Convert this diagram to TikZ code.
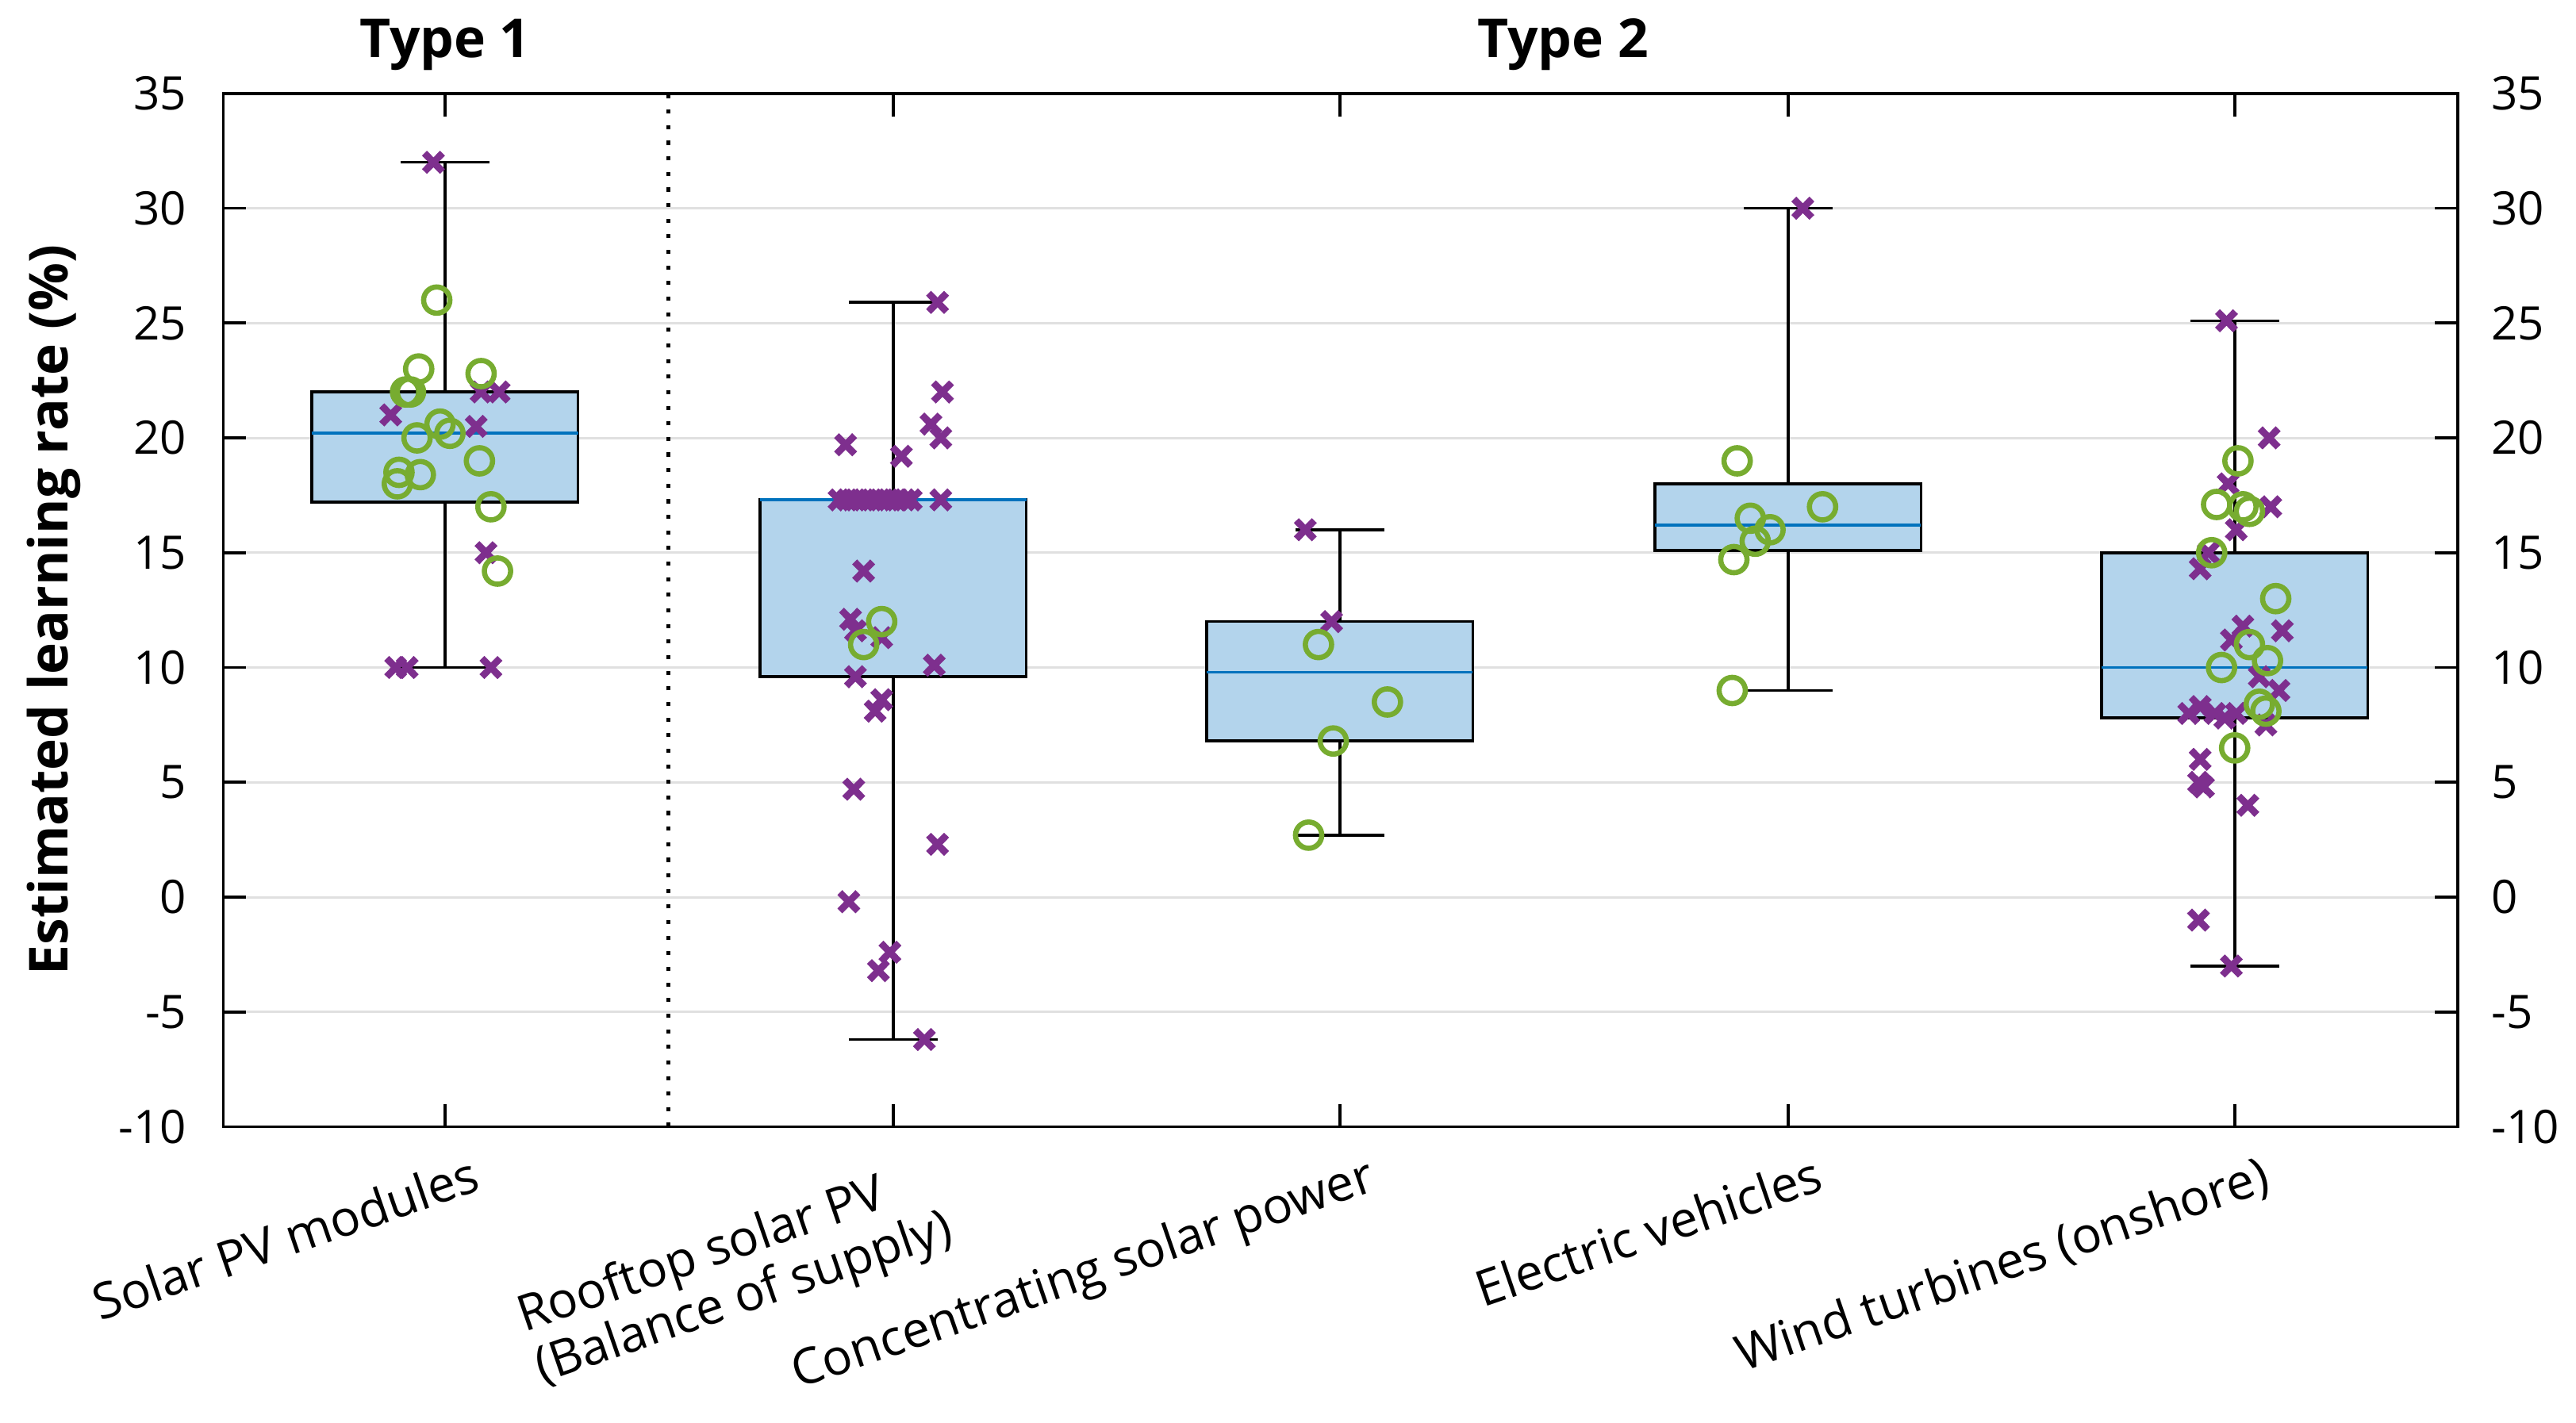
\documentclass[tikz,border=0pt]{standalone}
\usepackage{fontspec}
\setmainfont{Open Sans}
\definecolor{pur}{HTML}{7E2F8E}
\definecolor{grn}{HTML}{77AC30}
\definecolor{boxf}{HTML}{B3D4EC}
\definecolor{med}{HTML}{0072BD}
\begin{document}
\begin{tikzpicture}[
  lab/.style={font=\fontsize{8}{9}\selectfont},
  catlab/.style={font=\fontsize{8.6}{9.4}\selectfont,anchor=north east,rotate=19,inner sep=1pt},
  ttl/.style={font=\bfseries\fontsize{9.3}{10}\selectfont},
  xmark/.style={pur,line width=1.2pt},
  omark/.style={grn,line width=0.9pt},
  bx/.style={draw=black,fill=boxf,line width=0.5pt}]
\useasboundingbox (0,0) rectangle (15.68,8.66);
\begin{scope}[x=0.01cm,y=0.1398cm,shift={(0,3.198cm)}]
% grid
\foreach \v in {-5,0,...,30} \draw[black!12,line width=0.4pt] (136,\v) -- (1497,\v);
% dotted divider
\draw[dotted,line width=0.7pt] (407,-10) -- (407,35);
\newcommand{\xx}[2]{\draw[xmark] (#1-5.5,#2-0.4) -- (#1+5.5,#2+0.4) (#1-5.5,#2+0.4) -- (#1+5.5,#2-0.4);}
\newcommand{\oo}[2]{\draw[omark] (#1,#2) circle[radius=0.08cm];}
\newcommand{\myboxplot}[6]{% x, lowwh, q1, med, q3, upwh
  \draw[line width=0.5pt] (#1,#2) -- (#1,#3) (#1,#5) -- (#1,#6);
  \draw[line width=0.5pt] (#1-27,#2) -- (#1+27,#2) (#1-27,#6) -- (#1+27,#6);
  \draw[bx] (#1-81,#3) rectangle (#1+81,#5);
  \draw[med,line width=0.5pt] (#1-81,#4) -- (#1+81,#4);}
\myboxplot{271}{10}{17.2}{20.2}{22}{32}
\myboxplot{544}{-6.2}{9.6}{17.3}{17.3}{25.9}
\myboxplot{816}{2.7}{6.8}{9.8}{12}{16}
\myboxplot{1089}{9}{15.1}{16.2}{18}{30}
\myboxplot{1361}{-3}{7.8}{10}{15}{25.1}
% solar PV
\foreach \a/\b in {264/32,238/21,290/20.5,296/15,241/10,248/10,299/10,293/22,304/22} {\xx{\a}{\b}}
\foreach \a/\b in {266/26,255/23,293/22.8,247/22,250/22,268/20.6,254/20,274/20.2,292/19,243/18.5,256/18.4,242/18,299/17,303/14.2} {\oo{\a}{\b}}
% rooftop
\foreach \a/\b in {571/25.9,574/22,515/19.7,549/19.2,567/20.6,573/20,511/17.3,516/17.3,521/17.3,526/17.3,531/17.3,536/17.3,541/17.3,546/17.3,551/17.3,555/17.3,573/17.3,526/14.2,518/12.1,521/11.6,537/11.3,569/10.1,521/9.6,537/8.6,533/8.1,520/4.7,517/-0.2,542/-2.4,535/-3.2,563/-6.2,571/2.3} {\xx{\a}{\b}}
\foreach \a/\b in {537/12,526/11} {\oo{\a}{\b}}
% CSP
\foreach \a/\b in {795/16,811/12} {\xx{\a}{\b}}
\foreach \a/\b in {803/11,845/8.5,812/6.8,797/2.7} {\oo{\a}{\b}}
% EV
\xx{1098}{30}
\foreach \a/\b in {1058/19,1110/17,1066/16.5,1078/16,1069/15.5,1056/14.7,1055/9} {\oo{\a}{\b}}
% wind
\foreach \a/\b in {1356/25.1,1382/20,1357/18,1383/17,1362/16,1345/15,1340/14.3,1366/11.8,1359/11.2,1390/11.6,1388/9,1376/9.6,1333/8,1340/8.3,1349/8,1355/7.8,1362/8,1380/7.5,1340/6,1339/5,1342/4.8,1369/4,1339/-1,1359/-3} {\xx{\a}{\b}}
\foreach \a/\b in {1363/19,1350/17.1,1366/17,1370/16.8,1347/15,1386/13,1370/11,1353/10,1381/10.3,1376/8.4,1380/8.1,1361/6.5} {\oo{\a}{\b}}
% axes frame
\draw[line width=0.5pt] (136,-10) rectangle (1497,35);
\foreach \v in {-10,-5,...,35} {
  \draw[line width=0.5pt] (136,\v) -- (150,\v) (1497,\v) -- (1483,\v);
  \node[lab,anchor=east] at (126,\v) {\v};
  \node[lab,anchor=west] at (1505,\v) {\v};}
\foreach \c in {271,544,816,1089,1361}
  \draw[line width=0.5pt] (\c,-10) -- (\c,-9) (\c,35) -- (\c,34);
% titles
\node[ttl,anchor=south] (t1) at (271,35.1) {Type 1};
\node[ttl,anchor=south] (t2) at (952,35.1) {Type 2};
\node[ttl,rotate=90] (yl) at (33,12.5) {Estimated learning rate (\%)};
% category labels
\foreach \c/\t in {271/Solar PV modules,816/Concentrating solar power,1089/Electric vehicles,1361/Wind turbines (onshore)}
  \node[catlab] at (\c+18,-10.8) {\t};
\node[catlab,align=left] at (566,-10.8) {Rooftop solar PV\\(Balance of supply)};
\end{scope}
\end{tikzpicture}
\end{document}
